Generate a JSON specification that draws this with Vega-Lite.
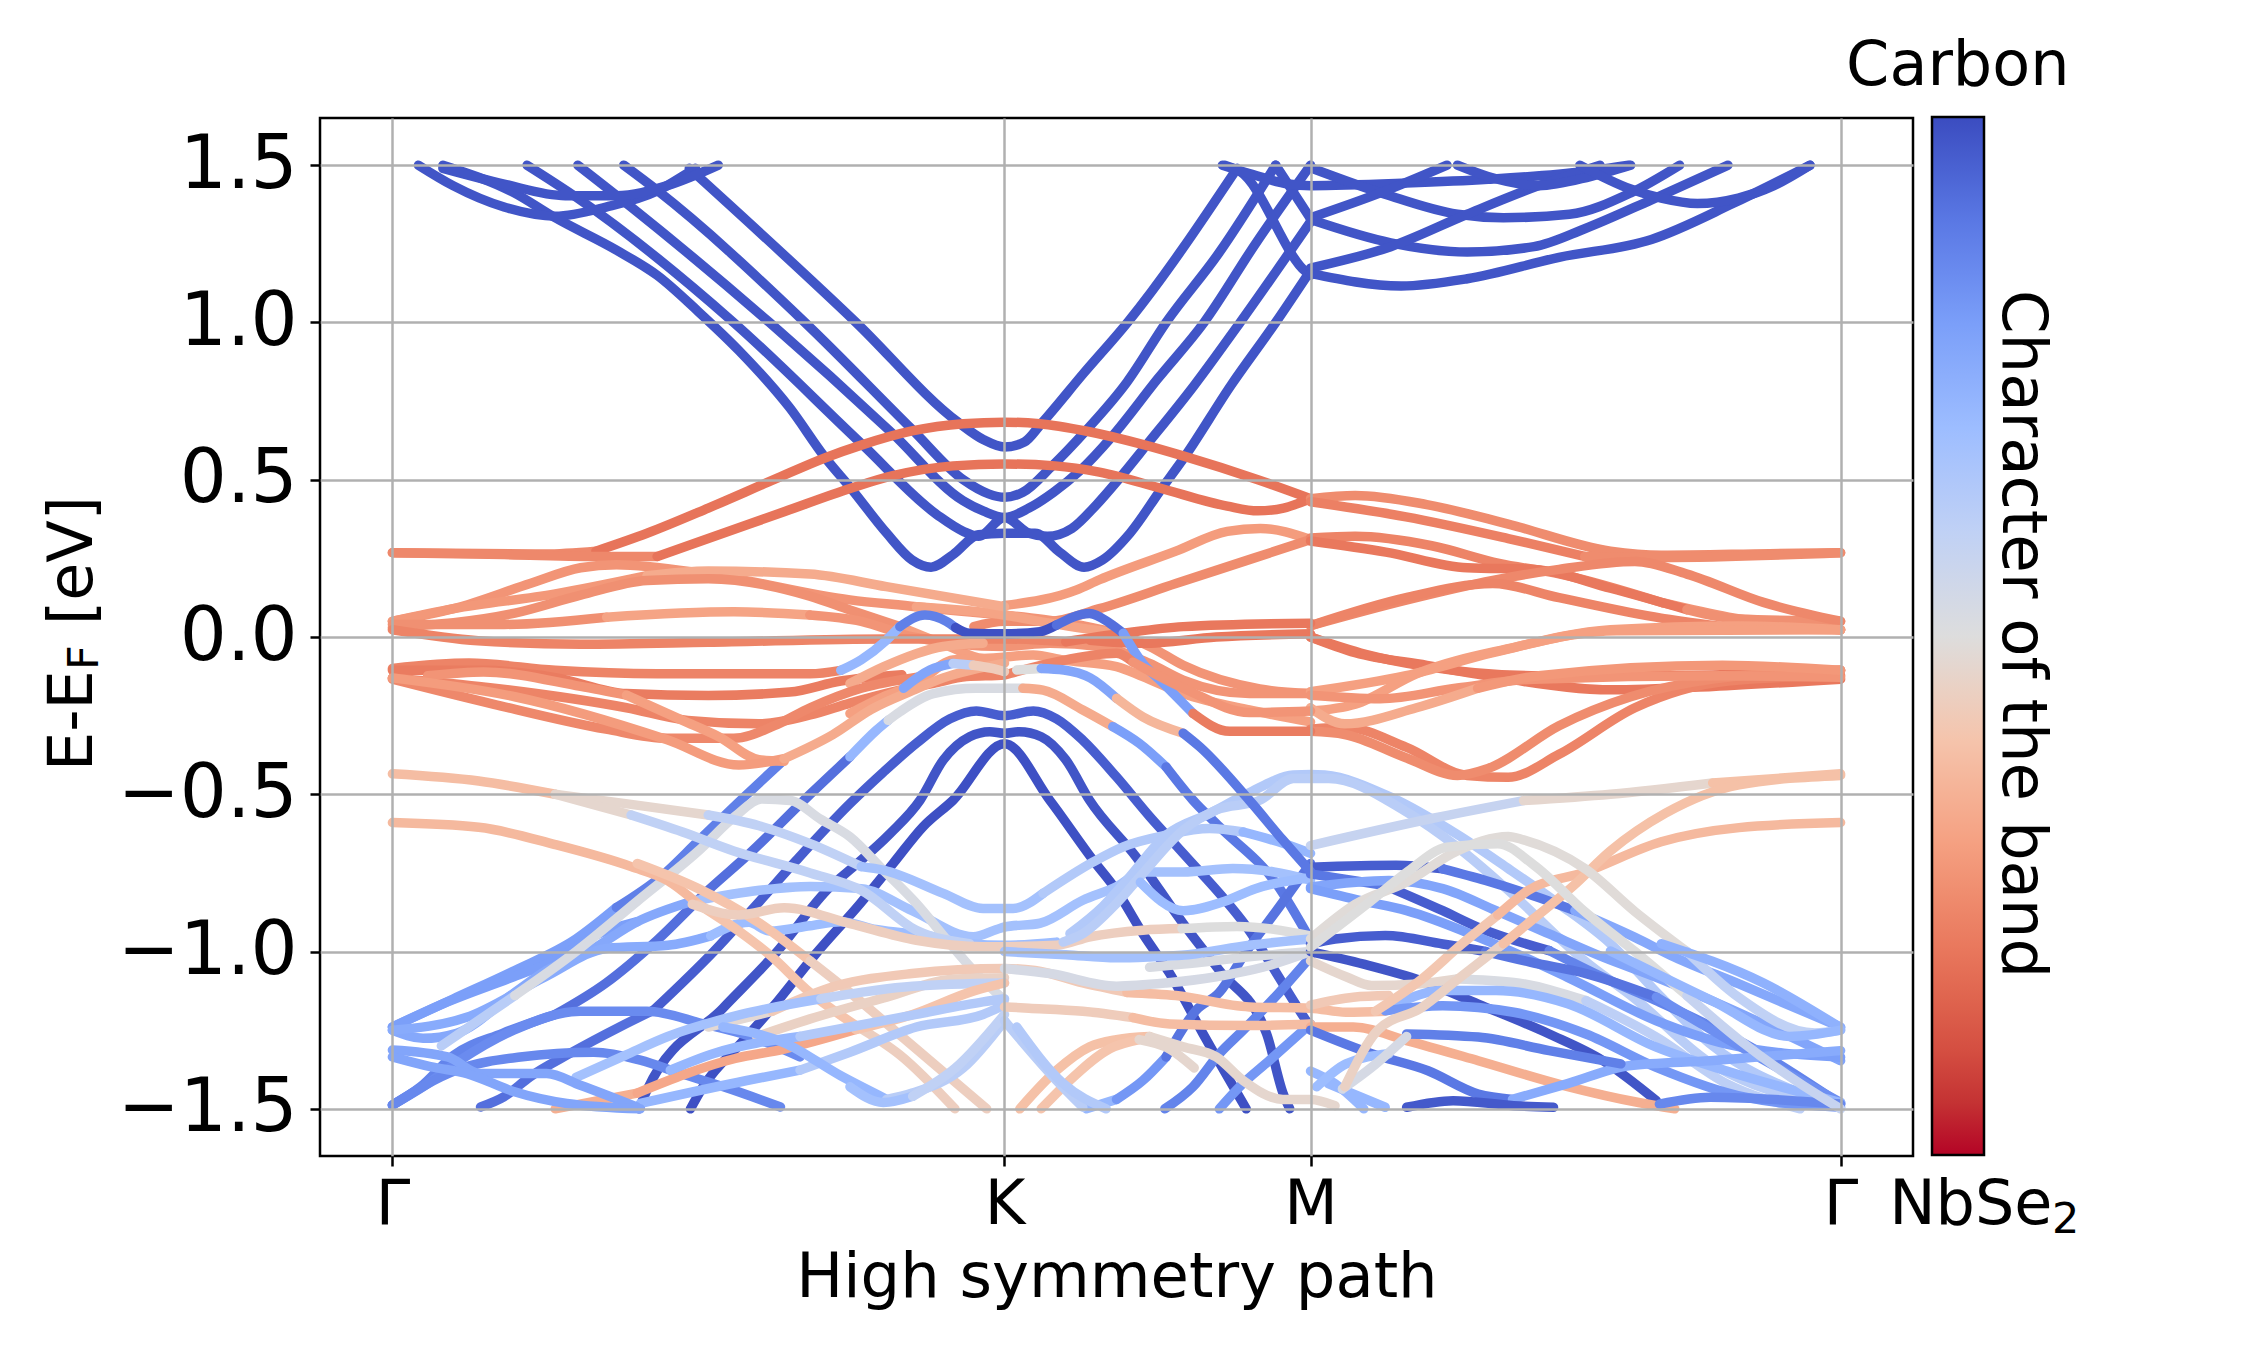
{"$schema":"https://vega.github.io/schema/vega-lite/v6.json","width":1593,"height":1038,"autosize":{"type":"none"},"padding":{"left":320,"top":118,"right":337,"bottom":194},"background":"white","config":{"view":{"stroke":"black","strokeWidth":2.5},"font":"DejaVu Sans"},
"layer":[{"data":{"values":[
{"s":1,"c":98,"x":0.0825,"y":1.5},{"s":1,"c":98,"x":0.199,"y":1.412},{"s":1,"c":98,"x":0.266,"y":1.333},{"s":1,"c":98,"x":0.366,"y":1.23},{"s":1,"c":98,"x":0.4325,"y":1.15},{"s":1,"c":98,"x":0.499,"y":1.036},{"s":1,"c":98,"x":0.566,"y":0.911},{"s":1,"c":98,"x":0.649,"y":0.729},{"s":1,"c":98,"x":0.7075,"y":0.569},{"s":1,"c":98,"x":0.749,"y":0.473},{"s":1,"c":98,"x":0.8075,"y":0.33},{"s":1,"c":98,"x":0.849,"y":0.245},{"s":1,"c":98,"x":0.88,"y":0.222},{"s":1,"c":98,"x":0.916,"y":0.262},{"s":1,"c":98,"x":0.9575,"y":0.325},{"s":1,"c":98,"x":1,"y":0.33},{"s":1,"c":98,"x":1.05,"y":0.33},{"s":1,"c":98,"x":1.09,"y":0.27},{"s":1,"c":98,"x":1.13,"y":0.222},{"s":1,"c":98,"x":1.16,"y":0.245},{"s":1,"c":98,"x":1.205,"y":0.33},{"s":1,"c":98,"x":1.255,"y":0.467},{"s":1,"c":98,"x":1.293,"y":0.569},{"s":1,"c":98,"x":1.37,"y":0.8},{"s":1,"c":98,"x":1.443,"y":1.0},{"s":1,"c":98,"x":1.5,"y":1.165},
{"s":2,"c":98,"x":0.22,"y":1.5},{"s":2,"c":98,"x":0.299,"y":1.4},{"s":2,"c":98,"x":0.5575,"y":1.0},{"s":2,"c":98,"x":0.766,"y":0.615},{"s":2,"c":98,"x":0.891,"y":0.387},{"s":2,"c":98,"x":0.9325,"y":0.336},{"s":2,"c":98,"x":0.9575,"y":0.32},{"s":2,"c":98,"x":1,"y":0.38},{"s":2,"c":98,"x":1.04,"y":0.33},{"s":2,"c":98,"x":1.07,"y":0.32},{"s":2,"c":98,"x":1.11,"y":0.345},{"s":2,"c":98,"x":1.15,"y":0.42},{"s":2,"c":98,"x":1.189,"y":0.507},{"s":2,"c":98,"x":1.232,"y":0.61},{"s":2,"c":98,"x":1.31,"y":0.8},{"s":2,"c":98,"x":1.385,"y":1.0},{"s":2,"c":98,"x":1.5,"y":1.32},
{"s":3,"c":98,"x":0.303,"y":1.5},{"s":3,"c":98,"x":0.39,"y":1.367},{"s":3,"c":98,"x":0.616,"y":1.0},{"s":3,"c":98,"x":0.816,"y":0.649},{"s":3,"c":98,"x":0.9325,"y":0.433},{"s":3,"c":98,"x":0.966,"y":0.4},{"s":3,"c":98,"x":1,"y":0.38},{"s":3,"c":98,"x":1.04,"y":0.41},{"s":3,"c":98,"x":1.08,"y":0.46},{"s":3,"c":98,"x":1.124,"y":0.53},{"s":3,"c":98,"x":1.176,"y":0.638},{"s":3,"c":98,"x":1.25,"y":0.82},{"s":3,"c":98,"x":1.326,"y":1.0},{"s":3,"c":98,"x":1.41,"y":1.25},{"s":3,"c":98,"x":1.5,"y":1.5},
{"s":4,"c":98,"x":0.378,"y":1.5},{"s":4,"c":98,"x":0.4325,"y":1.42},{"s":4,"c":98,"x":0.674,"y":1.0},{"s":4,"c":98,"x":0.849,"y":0.66},{"s":4,"c":98,"x":0.9325,"y":0.5},{"s":4,"c":98,"x":0.974,"y":0.455},{"s":4,"c":98,"x":1,"y":0.444},{"s":4,"c":98,"x":1.03,"y":0.46},{"s":4,"c":98,"x":1.078,"y":0.544},{"s":4,"c":98,"x":1.1325,"y":0.655},{"s":4,"c":98,"x":1.2,"y":0.81},{"s":4,"c":98,"x":1.264,"y":1.0},{"s":4,"c":98,"x":1.35,"y":1.22},{"s":4,"c":98,"x":1.443,"y":1.5},
{"s":5,"c":98,"x":0.485,"y":1.49},{"s":5,"c":98,"x":0.7575,"y":1.0},{"s":5,"c":98,"x":0.924,"y":0.683},{"s":5,"c":98,"x":0.966,"y":0.627},{"s":5,"c":98,"x":1,"y":0.604},{"s":5,"c":98,"x":1.0325,"y":0.62},{"s":5,"c":98,"x":1.06,"y":0.678},{"s":5,"c":98,"x":1.13,"y":0.84},{"s":5,"c":98,"x":1.201,"y":1.0},{"s":5,"c":98,"x":1.38,"y":1.49},
{"s":6,"c":98,"x":1.36,"y":1.5},{"s":6,"c":98,"x":1.385,"y":1.48},{"s":6,"c":98,"x":1.493,"y":1.16},{"s":6,"c":98,"x":1.5,"y":1.15},
{"s":7,"c":98,"x":1.443,"y":1.5},{"s":7,"c":98,"x":1.5,"y":1.33},
{"s":8,"c":98,"x":1.356,"y":1.5},{"s":8,"c":98,"x":1.406,"y":1.47},{"s":8,"c":98,"x":1.464,"y":1.44},{"s":8,"c":98,"x":1.5,"y":1.435},{"s":8,"c":98,"x":1.656,"y":1.443},{"s":8,"c":98,"x":1.79,"y":1.455},{"s":8,"c":98,"x":1.948,"y":1.48},{"s":8,"c":98,"x":2.02,"y":1.5},
{"s":9,"c":98,"x":1.5,"y":1.492},{"s":9,"c":98,"x":1.623,"y":1.407},{"s":9,"c":98,"x":1.74,"y":1.344},{"s":9,"c":98,"x":1.815,"y":1.333},{"s":9,"c":98,"x":1.923,"y":1.344},{"s":9,"c":98,"x":2.023,"y":1.412},{"s":9,"c":98,"x":2.103,"y":1.5},
{"s":10,"c":98,"x":1.5,"y":1.333},{"s":10,"c":98,"x":1.614,"y":1.412},{"s":10,"c":98,"x":1.723,"y":1.5},
{"s":11,"c":98,"x":1.5,"y":1.327},{"s":11,"c":98,"x":1.631,"y":1.253},{"s":11,"c":98,"x":1.756,"y":1.224},{"s":11,"c":98,"x":1.865,"y":1.241},{"s":11,"c":98,"x":1.948,"y":1.298},{"s":11,"c":98,"x":2.057,"y":1.39},{"s":11,"c":98,"x":2.182,"y":1.5},
{"s":12,"c":98,"x":1.5,"y":1.173},{"s":12,"c":98,"x":1.631,"y":1.241},{"s":12,"c":98,"x":1.756,"y":1.344},{"s":12,"c":98,"x":1.873,"y":1.435},{"s":12,"c":98,"x":1.973,"y":1.5},
{"s":13,"c":98,"x":1.5,"y":1.156},{"s":13,"c":98,"x":1.648,"y":1.116},{"s":13,"c":98,"x":1.756,"y":1.139},{"s":13,"c":98,"x":1.906,"y":1.207},{"s":13,"c":98,"x":2.057,"y":1.264},{"s":13,"c":98,"x":2.19,"y":1.378},{"s":13,"c":98,"x":2.316,"y":1.5},
{"s":14,"c":98,"x":1.74,"y":1.5},{"s":14,"c":98,"x":1.79,"y":1.464},{"s":14,"c":98,"x":1.873,"y":1.435},{"s":14,"c":98,"x":1.957,"y":1.464},{"s":14,"c":98,"x":2.023,"y":1.5},
{"s":15,"c":98,"x":1.94,"y":1.5},{"s":15,"c":98,"x":2.023,"y":1.424},{"s":15,"c":98,"x":2.073,"y":1.395},{"s":15,"c":98,"x":2.132,"y":1.378},{"s":15,"c":98,"x":2.199,"y":1.395},{"s":15,"c":98,"x":2.257,"y":1.435},{"s":15,"c":98,"x":2.316,"y":1.5},
{"s":16,"c":98,"x":0.0425,"y":1.5},{"s":16,"c":98,"x":0.099,"y":1.435},{"s":16,"c":98,"x":0.1825,"y":1.367},{"s":16,"c":98,"x":0.266,"y":1.338},{"s":16,"c":98,"x":0.349,"y":1.367},{"s":16,"c":98,"x":0.4325,"y":1.418},{"s":16,"c":98,"x":0.4825,"y":1.475},{"s":16,"c":98,"x":0.495,"y":1.49},
{"s":17,"c":98,"x":0.0825,"y":1.49},{"s":17,"c":98,"x":0.1825,"y":1.44},{"s":17,"c":98,"x":0.2825,"y":1.403},{"s":17,"c":98,"x":0.366,"y":1.403},{"s":17,"c":98,"x":0.449,"y":1.435},{"s":17,"c":98,"x":0.5325,"y":1.5},
{"s":18,"c":80,"x":0,"y":-1.24},{"s":18,"c":80,"x":0.1,"y":-1.15},{"s":18,"c":80,"x":0.2,"y":-1.06},{"s":18,"c":80,"x":0.3,"y":-0.96},{"s":18,"c":80,"x":0.366,"y":-0.86},{"s":18,"c":88,"x":0.366,"y":-0.86},{"s":18,"c":88,"x":0.44,"y":-0.76},{"s":18,"c":88,"x":0.499,"y":-0.65},{"s":18,"c":88,"x":0.574,"y":-0.51},{"s":18,"c":88,"x":0.64,"y":-0.39},
{"s":19,"c":87,"x":0,"y":-1.488},{"s":19,"c":87,"x":0.046,"y":-1.43},{"s":19,"c":87,"x":0.1,"y":-1.33},{"s":19,"c":87,"x":0.18,"y":-1.26},{"s":19,"c":87,"x":0.266,"y":-1.2},{"s":19,"c":92,"x":0.266,"y":-1.2},{"s":19,"c":92,"x":0.349,"y":-1.1},{"s":19,"c":92,"x":0.4325,"y":-0.964},{"s":19,"c":92,"x":0.516,"y":-0.805},{"s":19,"c":92,"x":0.5825,"y":-0.69},{"s":19,"c":92,"x":0.6825,"y":-0.5},{"s":19,"c":92,"x":0.7475,"y":-0.381},
{"s":20,"c":72,"x":0.7475,"y":-0.381},{"s":20,"c":72,"x":0.791,"y":-0.296},{"s":20,"c":72,"x":0.81,"y":-0.265},
{"s":21,"c":52,"x":0.81,"y":-0.265},{"s":21,"c":52,"x":0.829,"y":-0.238},{"s":21,"c":52,"x":0.884,"y":-0.18},{"s":21,"c":52,"x":0.954,"y":-0.163},{"s":21,"c":52,"x":1,"y":-0.163},{"s":21,"c":52,"x":1.03,"y":-0.163},
{"s":22,"c":33,"x":1.03,"y":-0.163},{"s":22,"c":33,"x":1.063,"y":-0.169},{"s":22,"c":33,"x":1.128,"y":-0.232},{"s":22,"c":33,"x":1.177,"y":-0.285},
{"s":23,"c":80,"x":1.177,"y":-0.285},{"s":23,"c":80,"x":1.22,"y":-0.338},{"s":23,"c":80,"x":1.264,"y":-0.413},{"s":23,"c":90,"x":1.264,"y":-0.413},{"s":23,"c":90,"x":1.308,"y":-0.519},{"s":23,"c":90,"x":1.351,"y":-0.603},{"s":23,"c":90,"x":1.444,"y":-0.784},{"s":23,"c":90,"x":1.5,"y":-0.964},
{"s":24,"c":92,"x":0.144,"y":-1.494},{"s":24,"c":92,"x":0.182,"y":-1.462},{"s":24,"c":92,"x":0.225,"y":-1.398},{"s":24,"c":92,"x":0.29,"y":-1.324},{"s":24,"c":92,"x":0.372,"y":-1.239},{"s":24,"c":92,"x":0.427,"y":-1.186},{"s":24,"c":96,"x":0.427,"y":-1.186},{"s":24,"c":96,"x":0.525,"y":-1.0},{"s":24,"c":96,"x":0.6,"y":-0.84},{"s":24,"c":96,"x":0.66,"y":-0.71},{"s":24,"c":96,"x":0.7475,"y":-0.53},{"s":24,"c":96,"x":0.802,"y":-0.43},{"s":24,"c":96,"x":0.856,"y":-0.338},{"s":24,"c":96,"x":0.911,"y":-0.26},{"s":24,"c":96,"x":0.954,"y":-0.235},{"s":24,"c":96,"x":1,"y":-0.25},{"s":24,"c":96,"x":1.047,"y":-0.235},{"s":24,"c":96,"x":1.085,"y":-0.26},{"s":24,"c":96,"x":1.128,"y":-0.328},{"s":24,"c":96,"x":1.183,"y":-0.445},{"s":24,"c":96,"x":1.237,"y":-0.57},{"s":24,"c":96,"x":1.292,"y":-0.688},{"s":24,"c":96,"x":1.395,"y":-0.92},{"s":24,"c":96,"x":1.493,"y":-1.22},{"s":24,"c":96,"x":1.5,"y":-1.24},
{"s":25,"c":98,"x":0.403,"y":-1.5},{"s":25,"c":98,"x":0.416,"y":-1.44},{"s":25,"c":98,"x":0.54,"y":-1.18},{"s":25,"c":98,"x":0.624,"y":-1.01},{"s":25,"c":98,"x":0.716,"y":-0.793},{"s":25,"c":98,"x":0.7475,"y":-0.74},{"s":25,"c":98,"x":0.813,"y":-0.625},{"s":25,"c":98,"x":0.862,"y":-0.519},{"s":25,"c":98,"x":0.9,"y":-0.391},{"s":25,"c":98,"x":0.943,"y":-0.317},{"s":25,"c":98,"x":0.976,"y":-0.301},{"s":25,"c":98,"x":1,"y":-0.306},{"s":25,"c":98,"x":1.024,"y":-0.301},{"s":25,"c":98,"x":1.06,"y":-0.317},{"s":25,"c":98,"x":1.1,"y":-0.39},{"s":25,"c":98,"x":1.139,"y":-0.519},{"s":25,"c":98,"x":1.215,"y":-0.699},{"s":25,"c":98,"x":1.292,"y":-0.911},{"s":25,"c":98,"x":1.351,"y":-1.06},{"s":25,"c":98,"x":1.428,"y":-1.26},{"s":25,"c":98,"x":1.455,"y":-1.45},{"s":25,"c":98,"x":1.466,"y":-1.5},
{"s":26,"c":99,"x":0.487,"y":-1.5},{"s":26,"c":99,"x":0.5075,"y":-1.43},{"s":26,"c":99,"x":0.574,"y":-1.282},{"s":26,"c":99,"x":0.62,"y":-1.18},{"s":26,"c":99,"x":0.691,"y":-1.009},{"s":26,"c":99,"x":0.764,"y":-0.848},{"s":26,"c":99,"x":0.818,"y":-0.72},{"s":26,"c":99,"x":0.867,"y":-0.603},{"s":26,"c":99,"x":0.916,"y":-0.519},{"s":26,"c":99,"x":1,"y":-0.339},{"s":26,"c":99,"x":1.074,"y":-0.519},{"s":26,"c":99,"x":1.145,"y":-0.71},{"s":26,"c":99,"x":1.183,"y":-0.805},{"s":26,"c":99,"x":1.226,"y":-0.943},{"s":26,"c":99,"x":1.27,"y":-1.07},{"s":26,"c":99,"x":1.324,"y":-1.26},{"s":26,"c":99,"x":1.395,"y":-1.5},
{"s":27,"c":87,"x":1.262,"y":-1.5},{"s":27,"c":87,"x":1.308,"y":-1.43},{"s":27,"c":87,"x":1.351,"y":-1.325},{"s":27,"c":87,"x":1.39,"y":-1.25},{"s":27,"c":87,"x":1.449,"y":-1.13},{"s":27,"c":87,"x":1.5,"y":-1.017},
{"s":28,"c":72,"x":1.134,"y":-1.5},{"s":28,"c":72,"x":1.183,"y":-1.47},{"s":28,"c":82,"x":1.183,"y":-1.47},{"s":28,"c":82,"x":1.226,"y":-1.41},{"s":28,"c":82,"x":1.264,"y":-1.335},{"s":28,"c":91,"x":1.264,"y":-1.335},{"s":28,"c":91,"x":1.313,"y":-1.187},{"s":28,"c":91,"x":1.351,"y":-1.13},{"s":28,"c":91,"x":1.395,"y":-1},{"s":28,"c":91,"x":1.449,"y":-0.858},{"s":28,"c":91,"x":1.5,"y":-0.72},
{"s":29,"c":82,"x":1.351,"y":-1.5},{"s":29,"c":82,"x":1.384,"y":-1.43},{"s":29,"c":82,"x":1.433,"y":-1.346},{"s":29,"c":82,"x":1.5,"y":-1.23},
{"s":30,"c":85,"x":0.0,"y":-1.488},{"s":30,"c":85,"x":0.05,"y":-1.43},{"s":30,"c":85,"x":0.111,"y":-1.345},{"s":30,"c":85,"x":0.198,"y":-1.25},{"s":30,"c":85,"x":0.307,"y":-1.19},{"s":30,"c":85,"x":0.416,"y":-1.19},{"s":30,"c":85,"x":0.508,"y":-1.23},{"s":30,"c":85,"x":0.579,"y":-1.266},{"s":30,"c":85,"x":0.666,"y":-1.335},
{"s":31,"c":86,"x":0,"y":-1.488},{"s":31,"c":86,"x":0.105,"y":-1.377},{"s":31,"c":86,"x":0.209,"y":-1.335},{"s":31,"c":86,"x":0.329,"y":-1.32},{"s":31,"c":86,"x":0.405,"y":-1.345},{"s":31,"c":86,"x":0.47,"y":-1.387},{"s":31,"c":86,"x":0.541,"y":-1.43},{"s":31,"c":86,"x":0.634,"y":-1.494},
{"s":32,"c":80,"x":0,"y":-1.24},{"s":32,"c":80,"x":0.09,"y":-1.16},{"s":32,"c":80,"x":0.198,"y":-1.08},{"s":32,"c":80,"x":0.263,"y":-1.03},{"s":32,"c":80,"x":0.33,"y":-0.95},{"s":32,"c":80,"x":0.4,"y":-0.905},
{"s":33,"c":77,"x":0,"y":-1.25},{"s":33,"c":77,"x":0.05,"y":-1.276},{"s":33,"c":77,"x":0.105,"y":-1.26},{"s":33,"c":77,"x":0.198,"y":-1.133},{"s":33,"c":77,"x":0.252,"y":-1.06},{"s":33,"c":77,"x":0.32,"y":-1.0},{"s":33,"c":77,"x":0.4,"y":-0.905},{"s":33,"c":77,"x":0.49,"y":-0.84},{"s":33,"c":68,"x":0.49,"y":-0.84},{"s":33,"c":68,"x":0.6,"y":-0.805},{"s":33,"c":68,"x":0.6825,"y":-0.793},{"s":33,"c":68,"x":0.766,"y":-0.8},{"s":33,"c":68,"x":0.849,"y":-0.87},{"s":33,"c":68,"x":0.949,"y":-0.953},{"s":33,"c":68,"x":0.987,"y":-0.93},{"s":33,"c":68,"x":1,"y":-0.922},{"s":33,"c":68,"x":1.058,"y":-0.91},{"s":33,"c":68,"x":1.128,"y":-0.837},{"s":33,"c":68,"x":1.183,"y":-0.794},{"s":33,"c":68,"x":1.226,"y":-0.747},{"s":33,"c":68,"x":1.292,"y":-0.747},{"s":33,"c":68,"x":1.373,"y":-0.736},{"s":33,"c":68,"x":1.44,"y":-0.747},{"s":33,"c":68,"x":1.5,"y":-0.773},
{"s":34,"c":76,"x":0,"y":-1.25},{"s":34,"c":76,"x":0.12,"y":-1.21},{"s":34,"c":76,"x":0.25,"y":-1.08},{"s":34,"c":76,"x":0.35,"y":-0.99},{"s":34,"c":76,"x":0.45,"y":-0.98},{"s":34,"c":76,"x":0.52,"y":-0.95},{"s":34,"c":70,"x":0.52,"y":-0.95},{"s":34,"c":70,"x":0.5825,"y":-0.907},{"s":34,"c":70,"x":0.616,"y":-0.935},{"s":34,"c":70,"x":0.6825,"y":-0.918},{"s":34,"c":70,"x":0.7325,"y":-0.905},{"s":34,"c":70,"x":0.79,"y":-0.93},{"s":34,"c":70,"x":0.875,"y":-0.95},{"s":34,"c":70,"x":0.943,"y":-0.975},{"s":34,"c":70,"x":1,"y":-0.98},{"s":34,"c":70,"x":1.085,"y":-0.97},
{"s":35,"c":62,"x":0.08,"y":-1.3},{"s":35,"c":62,"x":0.2,"y":-1.14},{"s":35,"c":52,"x":0.2,"y":-1.14},{"s":35,"c":52,"x":0.3,"y":-1.0},{"s":35,"c":52,"x":0.4,"y":-0.84},{"s":35,"c":52,"x":0.5,"y":-0.68},{"s":35,"c":52,"x":0.56,"y":-0.57},{"s":35,"c":52,"x":0.603,"y":-0.515},{"s":35,"c":52,"x":0.65,"y":-0.52},{"s":35,"c":52,"x":0.7,"y":-0.58},{"s":35,"c":52,"x":0.7475,"y":-0.635},{"s":35,"c":52,"x":0.802,"y":-0.741},{"s":35,"c":52,"x":0.856,"y":-0.847},{"s":35,"c":52,"x":0.911,"y":-0.975},{"s":35,"c":52,"x":0.954,"y":-1.07},{"s":35,"c":52,"x":1,"y":-1.155},
{"s":36,"c":38,"x":0,"y":-0.435},{"s":36,"c":38,"x":0.141,"y":-0.458},{"s":36,"c":38,"x":0.266,"y":-0.5},
{"s":37,"c":47,"x":0.266,"y":-0.5},{"s":37,"c":47,"x":0.39,"y":-0.532},{"s":37,"c":47,"x":0.516,"y":-0.566},
{"s":38,"c":60,"x":0.516,"y":-0.566},{"s":38,"c":60,"x":0.599,"y":-0.6},{"s":38,"c":60,"x":0.6825,"y":-0.657},{"s":38,"c":60,"x":0.766,"y":-0.73},{"s":38,"c":68,"x":0.766,"y":-0.73},{"s":38,"c":68,"x":0.802,"y":-0.741},{"s":38,"c":68,"x":0.9,"y":-0.815},{"s":38,"c":68,"x":0.965,"y":-0.863},{"s":38,"c":68,"x":1,"y":-0.863},{"s":38,"c":68,"x":1.014,"y":-0.863},{"s":38,"c":68,"x":1.063,"y":-0.815},{"s":38,"c":64,"x":1.063,"y":-0.815},{"s":38,"c":64,"x":1.145,"y":-0.715},{"s":38,"c":64,"x":1.194,"y":-0.667},{"s":38,"c":64,"x":1.264,"y":-0.63},{"s":38,"c":64,"x":1.335,"y":-0.609},{"s":38,"c":64,"x":1.39,"y":-0.62},{"s":38,"c":72,"x":1.39,"y":-0.62},{"s":38,"c":72,"x":1.455,"y":-0.656},{"s":38,"c":72,"x":1.5,"y":-0.688},
{"s":39,"c":47,"x":0.266,"y":-0.5},{"s":39,"c":47,"x":0.39,"y":-0.566},{"s":39,"c":60,"x":0.39,"y":-0.566},{"s":39,"c":60,"x":0.474,"y":-0.62},{"s":39,"c":60,"x":0.5575,"y":-0.68},{"s":39,"c":60,"x":0.6825,"y":-0.75},{"s":39,"c":60,"x":0.766,"y":-0.805},{"s":39,"c":60,"x":0.856,"y":-0.932},{"s":39,"c":60,"x":0.943,"y":-0.975},
{"s":40,"c":37,"x":0,"y":-0.59},{"s":40,"c":37,"x":0.141,"y":-0.605},{"s":40,"c":37,"x":0.266,"y":-0.66},{"s":40,"c":37,"x":0.39,"y":-0.73},{"s":40,"c":37,"x":0.45,"y":-0.775},{"s":40,"c":37,"x":0.5,"y":-0.85},{"s":40,"c":40,"x":0.5,"y":-0.85},{"s":40,"c":40,"x":0.566,"y":-0.935},{"s":40,"c":40,"x":0.616,"y":-1.01},{"s":40,"c":40,"x":0.682,"y":-1.13},{"s":40,"c":40,"x":0.757,"y":-1.235},{"s":40,"c":44,"x":0.757,"y":-1.235},{"s":40,"c":44,"x":0.83,"y":-1.33},{"s":40,"c":44,"x":0.919,"y":-1.5},
{"s":41,"c":40,"x":0.4,"y":-0.72},{"s":41,"c":40,"x":0.5,"y":-0.8},{"s":41,"c":40,"x":0.6,"y":-0.91},{"s":41,"c":40,"x":0.6825,"y":-1.03},{"s":41,"c":44,"x":0.6825,"y":-1.03},{"s":41,"c":44,"x":0.741,"y":-1.12},{"s":41,"c":44,"x":0.79,"y":-1.2},{"s":41,"c":44,"x":0.85,"y":-1.3},{"s":41,"c":44,"x":0.971,"y":-1.5},
{"s":42,"c":44,"x":0.49,"y":-0.85},{"s":42,"c":44,"x":0.566,"y":-0.884},{"s":42,"c":44,"x":0.64,"y":-0.861},{"s":42,"c":44,"x":0.7475,"y":-0.911},{"s":42,"c":44,"x":0.856,"y":-0.964},{"s":42,"c":44,"x":0.965,"y":-0.985},{"s":42,"c":44,"x":1.085,"y":-0.98},{"s":42,"c":44,"x":1.14,"y":-0.953},{"s":42,"c":44,"x":1.226,"y":-0.932},{"s":42,"c":44,"x":1.29,"y":-0.927},{"s":42,"c":50,"x":1.29,"y":-0.927},{"s":42,"c":50,"x":1.38,"y":-0.92},{"s":42,"c":50,"x":1.5,"y":-0.95},
{"s":43,"c":48,"x":0.516,"y":-1.24},{"s":43,"c":48,"x":0.62,"y":-1.19},{"s":43,"c":42,"x":0.62,"y":-1.19},{"s":43,"c":42,"x":0.724,"y":-1.11},{"s":43,"c":42,"x":0.849,"y":-1.07},{"s":43,"c":42,"x":1,"y":-1.054},{"s":43,"c":42,"x":1.05,"y":-1.06},{"s":43,"c":42,"x":1.128,"y":-1.1},{"s":43,"c":42,"x":1.2,"y":-1.13},{"s":43,"c":38,"x":1.2,"y":-1.13},{"s":43,"c":38,"x":1.28,"y":-1.14},{"s":43,"c":38,"x":1.4,"y":-1.176},{"s":43,"c":38,"x":1.5,"y":-1.18},{"s":43,"c":38,"x":1.558,"y":-1.193},{"s":43,"c":38,"x":1.622,"y":-1.19},
{"s":44,"c":45,"x":0.595,"y":-1.27},{"s":44,"c":45,"x":0.6825,"y":-1.214},{"s":44,"c":45,"x":0.8075,"y":-1.145},{"s":44,"c":45,"x":0.916,"y":-1.088},{"s":44,"c":45,"x":1,"y":-1.083},
{"s":45,"c":68,"x":0.3,"y":-1.4},{"s":45,"c":68,"x":0.38,"y":-1.33},{"s":45,"c":68,"x":0.45,"y":-1.27},{"s":45,"c":68,"x":0.57,"y":-1.2},{"s":45,"c":68,"x":0.7,"y":-1.15},{"s":45,"c":60,"x":0.7,"y":-1.15},{"s":45,"c":60,"x":0.85,"y":-1.11},{"s":45,"c":60,"x":1,"y":-1.1},
{"s":46,"c":34,"x":0.266,"y":-1.5},{"s":46,"c":34,"x":0.4,"y":-1.45},{"s":46,"c":32,"x":0.4,"y":-1.45},{"s":46,"c":32,"x":0.56,"y":-1.34},{"s":46,"c":32,"x":0.64,"y":-1.31},{"s":46,"c":32,"x":0.757,"y":-1.248},{"s":46,"c":40,"x":0.757,"y":-1.248},{"s":46,"c":40,"x":0.85,"y":-1.2},{"s":46,"c":40,"x":0.95,"y":-1.125},{"s":46,"c":40,"x":1,"y":-1.1},
{"s":47,"c":72,"x":0.405,"y":-1.483},{"s":47,"c":72,"x":0.579,"y":-1.41},{"s":47,"c":72,"x":0.666,"y":-1.377},{"s":47,"c":64,"x":0.666,"y":-1.377},{"s":47,"c":64,"x":0.7475,"y":-1.32},{"s":47,"c":64,"x":0.856,"y":-1.24},{"s":47,"c":64,"x":0.965,"y":-1.2},{"s":47,"c":64,"x":1,"y":-1.17},
{"s":48,"c":72,"x":0.454,"y":-1.377},{"s":48,"c":72,"x":0.525,"y":-1.324},{"s":48,"c":72,"x":0.666,"y":-1.27},{"s":48,"c":64,"x":0.666,"y":-1.27},{"s":48,"c":64,"x":0.7475,"y":-1.24},{"s":48,"c":64,"x":0.856,"y":-1.2},{"s":48,"c":64,"x":0.965,"y":-1.16},{"s":48,"c":64,"x":1,"y":-1.15},
{"s":49,"c":72,"x":0.54,"y":-1.24},{"s":49,"c":72,"x":0.64,"y":-1.29},{"s":49,"c":72,"x":0.7325,"y":-1.395},{"s":49,"c":72,"x":0.8075,"y":-1.47},{"s":49,"c":62,"x":0.8075,"y":-1.47},{"s":49,"c":62,"x":0.849,"y":-1.45},{"s":49,"c":62,"x":0.9325,"y":-1.37},{"s":49,"c":62,"x":1,"y":-1.22},
{"s":50,"c":68,"x":0.7475,"y":-1.43},{"s":50,"c":68,"x":0.802,"y":-1.48},{"s":50,"c":68,"x":0.85,"y":-1.46},{"s":50,"c":60,"x":0.85,"y":-1.46},{"s":50,"c":60,"x":0.92,"y":-1.37},{"s":50,"c":60,"x":1,"y":-1.2},
{"s":51,"c":78,"x":0,"y":-1.313},{"s":51,"c":78,"x":0.09,"y":-1.335},{"s":51,"c":78,"x":0.144,"y":-1.388},{"s":51,"c":78,"x":0.252,"y":-1.388},{"s":51,"c":78,"x":0.307,"y":-1.425},{"s":51,"c":78,"x":0.399,"y":-1.494},
{"s":52,"c":78,"x":0,"y":-1.335},{"s":52,"c":78,"x":0.062,"y":-1.366},{"s":52,"c":78,"x":0.122,"y":-1.388},{"s":52,"c":78,"x":0.198,"y":-1.445},{"s":52,"c":78,"x":0.285,"y":-1.483},{"s":52,"c":78,"x":0.405,"y":-1.5},
{"s":53,"c":39,"x":1.025,"y":-1.5},{"s":53,"c":39,"x":1.085,"y":-1.378},{"s":53,"c":39,"x":1.139,"y":-1.303},{"s":53,"c":39,"x":1.183,"y":-1.28},{"s":53,"c":39,"x":1.237,"y":-1.27},{"s":53,"c":47,"x":1.237,"y":-1.27},{"s":53,"c":47,"x":1.292,"y":-1.303},{"s":53,"c":47,"x":1.346,"y":-1.335},{"s":53,"c":47,"x":1.39,"y":-1.41},{"s":53,"c":47,"x":1.455,"y":-1.47},{"s":53,"c":47,"x":1.5,"y":-1.47},{"s":53,"c":47,"x":1.54,"y":-1.49},
{"s":54,"c":40,"x":1.06,"y":-1.5},{"s":54,"c":40,"x":1.101,"y":-1.42},{"s":54,"c":40,"x":1.172,"y":-1.309},{"s":54,"c":40,"x":1.22,"y":-1.28},{"s":54,"c":47,"x":1.22,"y":-1.28},{"s":54,"c":47,"x":1.27,"y":-1.31},{"s":54,"c":47,"x":1.31,"y":-1.37},
{"s":55,"c":62,"x":1,"y":-1.22},{"s":55,"c":62,"x":1.085,"y":-1.41},{"s":55,"c":62,"x":1.128,"y":-1.495},
{"s":56,"c":64,"x":1.02,"y":-1.24},{"s":56,"c":64,"x":1.096,"y":-1.42},{"s":56,"c":64,"x":1.166,"y":-1.5},
{"s":57,"c":64,"x":1.107,"y":-0.943},{"s":57,"c":64,"x":1.16,"y":-0.858},{"s":57,"c":64,"x":1.2,"y":-0.773},{"s":57,"c":64,"x":1.264,"y":-0.63},{"s":57,"c":64,"x":1.335,"y":-0.561},{"s":57,"c":64,"x":1.397,"y":-0.498},{"s":57,"c":64,"x":1.472,"y":-0.439},{"s":57,"c":64,"x":1.5,"y":-0.437},{"s":57,"c":64,"x":1.523,"y":-0.439},{"s":57,"c":64,"x":1.631,"y":-0.509},{"s":57,"c":64,"x":1.74,"y":-0.628},{"s":57,"c":64,"x":1.823,"y":-0.736},{"s":57,"c":64,"x":1.906,"y":-0.849},{"s":57,"c":64,"x":1.99,"y":-0.975},{"s":57,"c":64,"x":2.073,"y":-1.145},{"s":57,"c":64,"x":2.157,"y":-1.3},{"s":57,"c":64,"x":2.3,"y":-1.45},
{"s":58,"c":62,"x":1.096,"y":-0.97},{"s":58,"c":62,"x":1.128,"y":-0.943},{"s":58,"c":62,"x":1.183,"y":-0.847},{"s":58,"c":62,"x":1.226,"y":-0.752},{"s":58,"c":62,"x":1.292,"y":-0.614},{"s":58,"c":62,"x":1.346,"y":-0.55},{"s":58,"c":62,"x":1.417,"y":-0.519},{"s":58,"c":62,"x":1.472,"y":-0.45},{"s":58,"c":62,"x":1.53,"y":-0.45},{"s":58,"c":62,"x":1.656,"y":-0.555},{"s":58,"c":62,"x":1.74,"y":-0.668},{"s":58,"c":62,"x":1.823,"y":-0.805},{"s":58,"c":62,"x":1.948,"y":-1.03},{"s":58,"c":62,"x":2.03,"y":-1.15},{"s":58,"c":62,"x":2.15,"y":-1.35},{"s":58,"c":62,"x":2.3,"y":-1.47},
{"s":59,"c":70,"x":1.222,"y":-0.78},{"s":59,"c":70,"x":1.292,"y":-0.87},{"s":59,"c":70,"x":1.36,"y":-0.84},{"s":59,"c":70,"x":1.41,"y":-0.8},{"s":59,"c":70,"x":1.5,"y":-0.765},
{"s":60,"c":52,"x":1.237,"y":-1.05},{"s":60,"c":52,"x":1.292,"y":-1.04},{"s":60,"c":52,"x":1.4,"y":-1.017},{"s":60,"c":52,"x":1.5,"y":-1},
{"s":61,"c":53,"x":1,"y":-1.054},{"s":61,"c":53,"x":1.074,"y":-1.07},{"s":61,"c":53,"x":1.183,"y":-1.11},{"s":61,"c":53,"x":1.264,"y":-1.1},{"s":61,"c":53,"x":1.346,"y":-1.08},{"s":61,"c":53,"x":1.422,"y":-1.05},{"s":61,"c":53,"x":1.5,"y":-1},
{"s":62,"c":68,"x":1,"y":-1},{"s":62,"c":68,"x":1.1,"y":-1.01},{"s":62,"c":68,"x":1.183,"y":-1.02},{"s":62,"c":68,"x":1.237,"y":-1.017},{"s":62,"c":68,"x":1.3,"y":-1.01},{"s":62,"c":68,"x":1.4,"y":-0.98},{"s":62,"c":68,"x":1.5,"y":-0.96},
{"s":63,"c":43,"x":1,"y":-1.176},{"s":63,"c":43,"x":1.04,"y":-1.18},{"s":63,"c":43,"x":1.128,"y":-1.19},{"s":63,"c":43,"x":1.21,"y":-1.21},{"s":63,"c":38,"x":1.21,"y":-1.21},{"s":63,"c":38,"x":1.27,"y":-1.23},{"s":63,"c":38,"x":1.4,"y":-1.235},{"s":63,"c":38,"x":1.5,"y":-1.23},
{"s":64,"c":96,"x":1.5,"y":-0.732},{"s":64,"c":96,"x":1.64,"y":-0.726},{"s":64,"c":96,"x":1.716,"y":-0.737},{"s":64,"c":90,"x":1.716,"y":-0.737},{"s":64,"c":90,"x":1.786,"y":-0.774},{"s":64,"c":90,"x":1.856,"y":-0.817},{"s":64,"c":90,"x":1.932,"y":-0.87},{"s":64,"c":77,"x":1.932,"y":-0.87},{"s":64,"c":77,"x":2.03,"y":-0.955},{"s":64,"c":77,"x":2.095,"y":-1.018},{"s":64,"c":77,"x":2.2,"y":-1.103},{"s":64,"c":77,"x":2.366,"y":-1.24},
{"s":65,"c":90,"x":1.5,"y":-0.753},{"s":65,"c":90,"x":1.622,"y":-0.79},{"s":65,"c":96,"x":1.622,"y":-0.79},{"s":65,"c":96,"x":1.716,"y":-0.87},{"s":65,"c":96,"x":1.774,"y":-0.923},{"s":65,"c":96,"x":1.89,"y":-0.997},{"s":65,"c":87,"x":1.89,"y":-0.997},{"s":65,"c":87,"x":1.978,"y":-1.082},{"s":65,"c":87,"x":2.065,"y":-1.156},{"s":65,"c":87,"x":2.21,"y":-1.294},{"s":65,"c":87,"x":2.366,"y":-1.485},
{"s":66,"c":78,"x":1.5,"y":-0.795},{"s":66,"c":78,"x":1.628,"y":-0.774},{"s":66,"c":78,"x":1.716,"y":-0.8},{"s":66,"c":78,"x":1.803,"y":-0.87},{"s":66,"c":78,"x":1.89,"y":-0.944},{"s":66,"c":78,"x":1.978,"y":-1.018},{"s":66,"c":78,"x":2.065,"y":-1.082},{"s":66,"c":78,"x":2.18,"y":-1.177},{"s":66,"c":78,"x":2.366,"y":-1.347},
{"s":67,"c":80,"x":1.5,"y":-0.8},{"s":67,"c":80,"x":1.582,"y":-0.838},{"s":67,"c":80,"x":1.657,"y":-0.87},{"s":67,"c":80,"x":1.774,"y":-0.954},{"s":67,"c":80,"x":1.92,"y":-1.082},{"s":67,"c":80,"x":2.065,"y":-1.22},{"s":67,"c":80,"x":2.18,"y":-1.294},{"s":67,"c":80,"x":2.366,"y":-1.336},
{"s":68,"c":96,"x":1.5,"y":-0.976},{"s":68,"c":96,"x":1.54,"y":-0.96},{"s":68,"c":96,"x":1.622,"y":-0.949},{"s":68,"c":96,"x":1.716,"y":-0.976},{"s":68,"c":96,"x":1.786,"y":-1},{"s":68,"c":91,"x":1.786,"y":-1},{"s":68,"c":91,"x":1.86,"y":-1.034},{"s":68,"c":91,"x":1.95,"y":-1.07},{"s":68,"c":91,"x":2.065,"y":-1.145},{"s":68,"c":84,"x":2.065,"y":-1.145},{"s":68,"c":84,"x":2.2,"y":-1.3},{"s":68,"c":84,"x":2.366,"y":-1.48},
{"s":69,"c":98,"x":1.5,"y":-1},{"s":69,"c":98,"x":1.587,"y":-1.04},{"s":69,"c":98,"x":1.68,"y":-1.092},{"s":69,"c":98,"x":1.774,"y":-1.167},{"s":69,"c":98,"x":1.89,"y":-1.262},{"s":69,"c":98,"x":1.978,"y":-1.347},{"s":69,"c":98,"x":2.065,"y":-1.474},
{"s":70,"c":47,"x":1.5,"y":-1.03},{"s":70,"c":47,"x":1.558,"y":-1.08},{"s":70,"c":47,"x":1.6,"y":-1.108},{"s":70,"c":47,"x":1.675,"y":-1.103},{"s":70,"c":47,"x":1.74,"y":-1.087},{"s":70,"c":52,"x":1.74,"y":-1.087},{"s":70,"c":52,"x":1.832,"y":-1.098},{"s":70,"c":52,"x":1.95,"y":-1.156},{"s":70,"c":61,"x":1.95,"y":-1.156},{"s":70,"c":61,"x":2.065,"y":-1.272},{"s":70,"c":61,"x":2.18,"y":-1.42},{"s":70,"c":61,"x":2.3,"y":-1.5},
{"s":71,"c":72,"x":1.64,"y":-1.166},{"s":71,"c":72,"x":1.716,"y":-1.124},{"s":71,"c":72,"x":1.803,"y":-1.124},{"s":71,"c":72,"x":1.92,"y":-1.166},{"s":71,"c":72,"x":2.065,"y":-1.304},{"s":71,"c":72,"x":2.18,"y":-1.38},{"s":71,"c":72,"x":2.366,"y":-1.48},
{"s":72,"c":82,"x":1.622,"y":-1.188},{"s":72,"c":82,"x":1.716,"y":-1.172},{"s":72,"c":82,"x":1.832,"y":-1.193},{"s":72,"c":82,"x":1.95,"y":-1.262},{"s":72,"c":82,"x":2.065,"y":-1.368},{"s":72,"c":82,"x":2.21,"y":-1.463},{"s":72,"c":82,"x":2.366,"y":-1.495},
{"s":73,"c":42,"x":1.5,"y":-1.17},{"s":73,"c":42,"x":1.57,"y":-1.145},{"s":73,"c":42,"x":1.628,"y":-1.14},
{"s":74,"c":34,"x":1.5,"y":-1.24},{"s":74,"c":34,"x":1.57,"y":-1.24},{"s":74,"c":34,"x":1.657,"y":-1.283},{"s":74,"c":34,"x":1.774,"y":-1.347},{"s":74,"c":34,"x":1.914,"y":-1.426},{"s":74,"c":34,"x":2.036,"y":-1.48},{"s":74,"c":34,"x":2.095,"y":-1.5},
{"s":75,"c":90,"x":1.5,"y":-1.25},{"s":75,"c":90,"x":1.6,"y":-1.325},{"s":75,"c":90,"x":1.692,"y":-1.379},{"s":75,"c":90,"x":1.774,"y":-1.453},{"s":75,"c":90,"x":1.83,"y":-1.47},
{"s":76,"c":76,"x":1.83,"y":-1.47},{"s":76,"c":76,"x":1.92,"y":-1.42},{"s":76,"c":76,"x":2.02,"y":-1.363},{"s":76,"c":76,"x":2.153,"y":-1.347},{"s":76,"c":76,"x":2.366,"y":-1.315},
{"s":77,"c":97,"x":1.657,"y":-1.495},{"s":77,"c":97,"x":1.733,"y":-1.474},{"s":77,"c":97,"x":1.832,"y":-1.49},{"s":77,"c":97,"x":1.897,"y":-1.495},
{"s":78,"c":86,"x":2.07,"y":-1.485},{"s":78,"c":86,"x":2.153,"y":-1.463},{"s":78,"c":86,"x":2.366,"y":-1.485},
{"s":79,"c":88,"x":1.657,"y":-1.262},{"s":79,"c":88,"x":1.774,"y":-1.272},{"s":79,"c":88,"x":1.89,"y":-1.315},{"s":79,"c":88,"x":2.007,"y":-1.357},
{"s":80,"c":72,"x":1.529,"y":-1.42},{"s":80,"c":72,"x":1.622,"y":-1.495},
{"s":81,"c":72,"x":1.5,"y":-1.38},{"s":81,"c":72,"x":1.54,"y":-1.42},{"s":81,"c":72,"x":1.587,"y":-1.5},
{"s":82,"c":70,"x":1.51,"y":-1.43},{"s":82,"c":70,"x":1.558,"y":-1.357},{"s":82,"c":70,"x":1.628,"y":-1.325},
{"s":83,"c":53,"x":1.552,"y":-1.437},{"s":83,"c":53,"x":1.6,"y":-1.368},{"s":83,"c":53,"x":1.657,"y":-1.27},
{"s":84,"c":58,"x":1.5,"y":-0.663},{"s":84,"c":58,"x":1.698,"y":-0.577},{"s":84,"c":58,"x":1.848,"y":-0.52},{"s":84,"c":47,"x":1.848,"y":-0.52},{"s":84,"c":47,"x":1.99,"y":-0.5},{"s":84,"c":47,"x":2.157,"y":-0.464},{"s":84,"c":39,"x":2.157,"y":-0.464},{"s":84,"c":39,"x":2.366,"y":-0.435},
{"s":85,"c":41,"x":1.606,"y":-1.19},{"s":85,"c":41,"x":1.681,"y":-1.089},{"s":85,"c":41,"x":1.748,"y":-0.975},{"s":85,"c":41,"x":1.806,"y":-0.884},{"s":85,"c":37,"x":1.806,"y":-0.884},{"s":85,"c":37,"x":1.856,"y":-0.805},{"s":85,"c":37,"x":1.948,"y":-0.748},{"s":85,"c":37,"x":2.073,"y":-0.651},{"s":85,"c":37,"x":2.2,"y":-0.606},{"s":85,"c":37,"x":2.366,"y":-0.59},
{"s":86,"c":45,"x":1.556,"y":-1.43},{"s":86,"c":45,"x":1.61,"y":-1.25},{"s":86,"c":45,"x":1.68,"y":-1.18},{"s":86,"c":45,"x":1.74,"y":-1.089},{"s":86,"c":45,"x":1.815,"y":-0.975},{"s":86,"c":39,"x":1.815,"y":-0.975},{"s":86,"c":39,"x":1.865,"y":-0.895},{"s":86,"c":39,"x":1.93,"y":-0.79},{"s":86,"c":39,"x":1.99,"y":-0.68},{"s":86,"c":39,"x":2.08,"y":-0.56},{"s":86,"c":39,"x":2.2,"y":-0.47},{"s":86,"c":39,"x":2.366,"y":-0.44},
{"s":87,"c":49,"x":1.5,"y":-0.96},{"s":87,"c":49,"x":1.573,"y":-0.85},{"s":87,"c":49,"x":1.656,"y":-0.78},{"s":87,"c":49,"x":1.74,"y":-0.68},{"s":87,"c":49,"x":1.823,"y":-0.634},{"s":87,"c":49,"x":1.848,"y":-0.645},{"s":87,"c":49,"x":1.948,"y":-0.736},{"s":87,"c":49,"x":2.03,"y":-0.873},{"s":87,"c":49,"x":2.115,"y":-1},{"s":87,"c":60,"x":2.115,"y":-1},{"s":87,"c":60,"x":2.199,"y":-1.145},{"s":87,"c":60,"x":2.324,"y":-1.259},{"s":87,"c":60,"x":2.366,"y":-1.25},
{"s":88,"c":50,"x":1.5,"y":-0.986},{"s":88,"c":50,"x":1.598,"y":-0.84},{"s":88,"c":50,"x":1.656,"y":-0.75},{"s":88,"c":50,"x":1.723,"y":-0.668},{"s":88,"c":50,"x":1.806,"y":-0.657},{"s":88,"c":50,"x":1.865,"y":-0.725},{"s":88,"c":50,"x":1.948,"y":-0.873},{"s":88,"c":50,"x":2.03,"y":-1},{"s":88,"c":50,"x":2.115,"y":-1.14},{"s":88,"c":58,"x":2.115,"y":-1.14},{"s":88,"c":58,"x":2.2,"y":-1.28},{"s":88,"c":58,"x":2.3,"y":-1.42},{"s":88,"c":58,"x":2.366,"y":-1.5},
{"s":89,"c":74,"x":2.073,"y":-0.975},{"s":89,"c":74,"x":2.24,"y":-1.1},{"s":89,"c":74,"x":2.366,"y":-1.242},
{"s":90,"c":72,"x":1.99,"y":-0.998},{"s":90,"c":72,"x":2.157,"y":-1.157},{"s":90,"c":72,"x":2.283,"y":-1.27},{"s":90,"c":72,"x":2.366,"y":-1.25},
{"s":100,"c":24,"x":0,"y":0.268},{"s":100,"c":24,"x":0.249,"y":0.264},{"s":100,"c":24,"x":0.3325,"y":0.273},{"s":100,"c":19,"x":0.3325,"y":0.273},{"s":100,"c":19,"x":0.416,"y":0.33},{"s":100,"c":19,"x":0.516,"y":0.41},{"s":100,"c":19,"x":0.624,"y":0.501},{"s":100,"c":19,"x":0.7075,"y":0.57},{"s":100,"c":19,"x":0.766,"y":0.61},{"s":100,"c":19,"x":0.849,"y":0.655},{"s":100,"c":19,"x":0.9325,"y":0.678},{"s":100,"c":19,"x":1,"y":0.683},{"s":100,"c":19,"x":1.0575,"y":0.678},{"s":100,"c":19,"x":1.1325,"y":0.655},{"s":100,"c":19,"x":1.23,"y":0.61},{"s":100,"c":19,"x":1.293,"y":0.575},{"s":100,"c":19,"x":1.414,"y":0.5},{"s":100,"c":19,"x":1.5,"y":0.44},
{"s":101,"c":24,"x":0,"y":0.268},{"s":101,"c":24,"x":0.1825,"y":0.262},{"s":101,"c":24,"x":0.349,"y":0.256},{"s":101,"c":24,"x":0.4325,"y":0.256},{"s":101,"c":19,"x":0.4325,"y":0.256},{"s":101,"c":19,"x":0.516,"y":0.313},{"s":101,"c":19,"x":0.641,"y":0.399},{"s":101,"c":19,"x":0.749,"y":0.473},{"s":101,"c":19,"x":0.816,"y":0.512},{"s":101,"c":19,"x":0.916,"y":0.544},{"s":101,"c":19,"x":1,"y":0.55},{"s":101,"c":19,"x":1.0825,"y":0.544},{"s":101,"c":19,"x":1.155,"y":0.524},{"s":101,"c":19,"x":1.255,"y":0.473},{"s":101,"c":19,"x":1.364,"y":0.416},{"s":101,"c":19,"x":1.414,"y":0.401},{"s":101,"c":19,"x":1.456,"y":0.41},{"s":101,"c":19,"x":1.5,"y":0.44},
{"s":102,"c":25,"x":1.5,"y":0.44},{"s":102,"c":25,"x":1.573,"y":0.45},{"s":102,"c":25,"x":1.69,"y":0.421},{"s":102,"c":25,"x":1.823,"y":0.359},{"s":102,"c":25,"x":1.99,"y":0.273},{"s":102,"c":25,"x":2.073,"y":0.26},{"s":102,"c":25,"x":2.25,"y":0.265},{"s":102,"c":25,"x":2.366,"y":0.268},
{"s":103,"c":22,"x":1.5,"y":0.43},{"s":103,"c":22,"x":1.656,"y":0.382},{"s":103,"c":22,"x":1.823,"y":0.313},{"s":103,"c":22,"x":1.948,"y":0.256},{"s":103,"c":25,"x":1.948,"y":0.256},{"s":103,"c":25,"x":2.073,"y":0.253},{"s":103,"c":25,"x":2.366,"y":0.268},
{"s":104,"c":29,"x":1,"y":0.1},{"s":104,"c":29,"x":1.118,"y":0.15},{"s":104,"c":29,"x":1.155,"y":0.182},{"s":104,"c":29,"x":1.28,"y":0.273},{"s":104,"c":29,"x":1.364,"y":0.336},{"s":104,"c":29,"x":1.418,"y":0.345},{"s":104,"c":29,"x":1.5,"y":0.31},
{"s":105,"c":25,"x":0.95,"y":0.033},{"s":105,"c":25,"x":1,"y":0.05},{"s":105,"c":25,"x":1.074,"y":0.05},{"s":105,"c":25,"x":1.155,"y":0.09},{"s":105,"c":25,"x":1.28,"y":0.17},{"s":105,"c":25,"x":1.406,"y":0.25},{"s":105,"c":25,"x":1.5,"y":0.31},
{"s":106,"c":23,"x":1.5,"y":0.315},{"s":106,"c":23,"x":1.573,"y":0.32},{"s":106,"c":23,"x":1.698,"y":0.29},{"s":106,"c":23,"x":1.808,"y":0.234},{"s":106,"c":23,"x":1.908,"y":0.2},{"s":106,"c":23,"x":2.075,"y":0.109},{"s":106,"c":27,"x":2.075,"y":0.109},{"s":106,"c":27,"x":2.183,"y":0.063},{"s":106,"c":27,"x":2.366,"y":0.023},
{"s":107,"c":20,"x":1.5,"y":0.305},{"s":107,"c":20,"x":1.623,"y":0.27},{"s":107,"c":20,"x":1.756,"y":0.22},{"s":107,"c":20,"x":1.865,"y":0.215},{"s":107,"c":20,"x":1.99,"y":0.155},{"s":107,"c":20,"x":2.115,"y":0.087},{"s":107,"c":26,"x":2.115,"y":0.087},{"s":107,"c":26,"x":2.199,"y":0.057},{"s":107,"c":26,"x":2.366,"y":0.05},
{"s":108,"c":24,"x":1.5,"y":0.036},{"s":108,"c":24,"x":1.656,"y":0.117},{"s":108,"c":24,"x":1.798,"y":0.18},{"s":108,"c":24,"x":1.906,"y":0.215},{"s":108,"c":24,"x":2.03,"y":0.24},{"s":108,"c":24,"x":2.115,"y":0.2},{"s":108,"c":24,"x":2.24,"y":0.11},{"s":108,"c":24,"x":2.366,"y":0.05},
{"s":109,"c":23,"x":1.5,"y":0.036},{"s":109,"c":23,"x":1.656,"y":0.125},{"s":109,"c":23,"x":1.798,"y":0.17},{"s":109,"c":23,"x":1.906,"y":0.125},{"s":109,"c":23,"x":2.073,"y":0.06},{"s":109,"c":23,"x":2.199,"y":0.03},{"s":109,"c":23,"x":2.366,"y":0.023},
{"s":110,"c":27,"x":0,"y":0.05},{"s":110,"c":27,"x":0.1,"y":0.09},{"s":110,"c":27,"x":0.225,"y":0.17},{"s":110,"c":27,"x":0.3075,"y":0.22},{"s":110,"c":27,"x":0.366,"y":0.23},{"s":110,"c":27,"x":0.516,"y":0.2},{"s":110,"c":27,"x":0.7475,"y":0.118},{"s":110,"c":27,"x":0.856,"y":0.096},{"s":110,"c":31,"x":0.856,"y":0.096},{"s":110,"c":31,"x":1,"y":0.07},{"s":110,"c":31,"x":1.074,"y":0.044},{"s":110,"c":31,"x":1.183,"y":0.012},{"s":110,"c":27,"x":1.183,"y":0.012},{"s":110,"c":27,"x":1.237,"y":-0.03},{"s":110,"c":27,"x":1.292,"y":-0.09},{"s":110,"c":27,"x":1.417,"y":-0.165},{"s":110,"c":27,"x":1.5,"y":-0.18},
{"s":111,"c":28,"x":0,"y":0.05},{"s":111,"c":28,"x":0.1,"y":0.09},{"s":111,"c":28,"x":0.266,"y":0.137},{"s":111,"c":28,"x":0.416,"y":0.195},{"s":111,"c":33,"x":0.416,"y":0.195},{"s":111,"c":33,"x":0.516,"y":0.21},{"s":111,"c":33,"x":0.682,"y":0.2},{"s":111,"c":33,"x":0.807,"y":0.16},{"s":111,"c":33,"x":1,"y":0.096},
{"s":112,"c":26,"x":0,"y":0.03},{"s":112,"c":26,"x":0.2,"y":0.076},{"s":112,"c":26,"x":0.3075,"y":0.133},{"s":112,"c":26,"x":0.416,"y":0.18},{"s":112,"c":26,"x":0.516,"y":0.185},{"s":112,"c":26,"x":0.682,"y":0.13},{"s":112,"c":26,"x":0.7475,"y":0.086},{"s":112,"c":26,"x":0.829,"y":0.033},{"s":112,"c":30,"x":0.829,"y":0.033},{"s":112,"c":30,"x":0.91,"y":-0.03},{"s":112,"c":30,"x":0.965,"y":-0.068},{"s":112,"c":30,"x":1.047,"y":-0.057},{"s":112,"c":30,"x":1.096,"y":-0.073},{"s":112,"c":30,"x":1.183,"y":-0.094},{"s":112,"c":30,"x":1.226,"y":-0.126},{"s":112,"c":30,"x":1.292,"y":-0.18},{"s":112,"c":30,"x":1.4,"y":-0.232},{"s":112,"c":30,"x":1.5,"y":-0.27},
{"s":113,"c":26,"x":0,"y":0.04},{"s":113,"c":26,"x":0.183,"y":0.04},{"s":113,"c":26,"x":0.35,"y":0.063},{"s":113,"c":31,"x":0.35,"y":0.063},{"s":113,"c":31,"x":0.558,"y":0.08},{"s":113,"c":31,"x":0.682,"y":0.07},{"s":113,"c":27,"x":0.682,"y":0.07},{"s":113,"c":27,"x":0.766,"y":0.05},{"s":113,"c":27,"x":0.85,"y":0.0},{"s":113,"c":27,"x":1,"y":-0.03},{"s":113,"c":27,"x":1.074,"y":-0.02},{"s":113,"c":27,"x":1.156,"y":-0.03},{"s":113,"c":27,"x":1.237,"y":-0.084},{"s":113,"c":27,"x":1.292,"y":-0.137},{"s":113,"c":27,"x":1.4,"y":-0.18},{"s":113,"c":27,"x":1.5,"y":-0.18},
{"s":114,"c":23,"x":0,"y":0.023},{"s":114,"c":23,"x":0.14,"y":-0.012},{"s":114,"c":23,"x":0.3075,"y":-0.023},{"s":114,"c":23,"x":0.516,"y":-0.017},{"s":114,"c":23,"x":0.8075,"y":-0.006},{"s":114,"c":23,"x":1,"y":-0.006},{"s":114,"c":23,"x":1.1,"y":-0.015},{"s":114,"c":20,"x":1.1,"y":-0.015},{"s":114,"c":20,"x":1.194,"y":0.012},{"s":114,"c":20,"x":1.292,"y":0.033},{"s":114,"c":20,"x":1.5,"y":0.044},
{"s":115,"c":20,"x":1.14,"y":-0.01},{"s":115,"c":20,"x":1.226,"y":-0.02},{"s":115,"c":20,"x":1.346,"y":0.0},{"s":115,"c":20,"x":1.5,"y":0.01},
{"s":116,"c":20,"x":1.5,"y":0.0},{"s":116,"c":20,"x":1.573,"y":-0.05},{"s":116,"c":20,"x":1.69,"y":-0.09},{"s":116,"c":20,"x":1.823,"y":-0.134},{"s":116,"c":20,"x":1.99,"y":-0.168},{"s":116,"c":20,"x":2.157,"y":-0.157},{"s":116,"c":20,"x":2.366,"y":-0.134},
{"s":117,"c":20,"x":1.5,"y":0.0},{"s":117,"c":20,"x":1.59,"y":-0.055},{"s":117,"c":20,"x":1.69,"y":-0.094},{"s":117,"c":20,"x":1.873,"y":-0.123},{"s":117,"c":20,"x":2.073,"y":-0.123},{"s":117,"c":20,"x":2.366,"y":-0.106},
{"s":118,"c":23,"x":1.5,"y":-0.293},{"s":118,"c":23,"x":1.556,"y":-0.287},{"s":118,"c":23,"x":1.656,"y":-0.35},{"s":118,"c":23,"x":1.756,"y":-0.44},{"s":118,"c":23,"x":1.823,"y":-0.446},{"s":118,"c":23,"x":1.906,"y":-0.373},{"s":118,"c":23,"x":2.03,"y":-0.225},{"s":118,"c":23,"x":2.182,"y":-0.14},{"s":118,"c":23,"x":2.366,"y":-0.122},
{"s":119,"c":25,"x":1.5,"y":-0.3},{"s":119,"c":25,"x":1.556,"y":-0.31},{"s":119,"c":25,"x":1.656,"y":-0.384},{"s":119,"c":25,"x":1.74,"y":-0.44},{"s":119,"c":25,"x":1.79,"y":-0.418},{"s":119,"c":25,"x":1.906,"y":-0.282},{"s":119,"c":25,"x":2.023,"y":-0.19},{"s":119,"c":25,"x":2.157,"y":-0.134},{"s":119,"c":25,"x":2.366,"y":-0.106},
{"s":120,"c":30,"x":1.5,"y":-0.174},{"s":120,"c":30,"x":1.656,"y":-0.123},{"s":120,"c":30,"x":1.798,"y":-0.05},{"s":120,"c":30,"x":1.99,"y":0.023},{"s":120,"c":30,"x":2.2,"y":0.035},{"s":120,"c":30,"x":2.366,"y":0.023},
{"s":121,"c":30,"x":1.5,"y":-0.236},{"s":121,"c":30,"x":1.573,"y":-0.214},{"s":121,"c":30,"x":1.673,"y":-0.117},{"s":121,"c":30,"x":1.823,"y":-0.037},{"s":121,"c":30,"x":2,"y":0.02},{"s":121,"c":30,"x":2.366,"y":0.023},
{"s":122,"c":27,"x":1.5,"y":-0.185},{"s":122,"c":27,"x":1.614,"y":-0.196},{"s":122,"c":27,"x":1.74,"y":-0.162},{"s":122,"c":27,"x":1.865,"y":-0.134},{"s":122,"c":27,"x":2.173,"y":-0.123},{"s":122,"c":27,"x":2.366,"y":-0.128},
{"s":123,"c":33,"x":1.5,"y":-0.225},{"s":123,"c":33,"x":1.556,"y":-0.276},{"s":123,"c":33,"x":1.673,"y":-0.225},{"s":123,"c":33,"x":1.773,"y":-0.163},{"s":123,"c":28,"x":1.773,"y":-0.163},{"s":123,"c":28,"x":1.873,"y":-0.123},{"s":123,"c":28,"x":2.173,"y":-0.09},{"s":123,"c":28,"x":2.366,"y":-0.106},
{"s":124,"c":23,"x":0,"y":-0.1},{"s":124,"c":23,"x":0.125,"y":-0.083},{"s":124,"c":23,"x":0.266,"y":-0.106},{"s":124,"c":23,"x":0.4325,"y":-0.117},{"s":124,"c":23,"x":0.6825,"y":-0.117},{"s":124,"c":23,"x":0.7325,"y":-0.106},
{"s":125,"c":72,"x":0.7325,"y":-0.106},{"s":125,"c":72,"x":0.766,"y":-0.072},{"s":125,"c":72,"x":0.807,"y":-0.01},{"s":125,"c":72,"x":0.829,"y":0.033},
{"s":126,"c":88,"x":0.829,"y":0.033},{"s":126,"c":88,"x":0.87,"y":0.07},{"s":126,"c":88,"x":0.905,"y":0.05},{"s":126,"c":88,"x":0.92,"y":0.03},
{"s":127,"c":99,"x":0.92,"y":0.03},{"s":127,"c":99,"x":0.943,"y":0.012},{"s":127,"c":99,"x":1,"y":0.01},{"s":127,"c":99,"x":1.058,"y":0.017},{"s":127,"c":99,"x":1.085,"y":0.038},
{"s":128,"c":92,"x":1.085,"y":0.038},{"s":128,"c":92,"x":1.139,"y":0.075},{"s":128,"c":92,"x":1.172,"y":0.044},{"s":128,"c":92,"x":1.194,"y":0.012},{"s":128,"c":80,"x":1.194,"y":0.012},{"s":128,"c":80,"x":1.226,"y":-0.084},{"s":128,"c":80,"x":1.254,"y":-0.137},{"s":128,"c":80,"x":1.308,"y":-0.243},
{"s":129,"c":21,"x":1.308,"y":-0.243},{"s":129,"c":21,"x":1.368,"y":-0.3},{"s":129,"c":21,"x":1.455,"y":-0.3},{"s":129,"c":21,"x":1.5,"y":-0.3},
{"s":130,"c":21,"x":0,"y":-0.106},{"s":130,"c":21,"x":0.149,"y":-0.106},{"s":130,"c":21,"x":0.266,"y":-0.129},{"s":130,"c":21,"x":0.3825,"y":-0.18},{"s":130,"c":21,"x":0.516,"y":-0.186},{"s":130,"c":21,"x":0.649,"y":-0.175},{"s":130,"c":21,"x":0.7325,"y":-0.14},{"s":130,"c":21,"x":0.8325,"y":-0.12},
{"s":138,"c":33,"x":0.7475,"y":-0.148},{"s":138,"c":33,"x":0.802,"y":-0.095},{"s":138,"c":33,"x":0.9,"y":-0.03},{"s":138,"c":33,"x":0.965,"y":-0.02},
{"s":131,"c":23,"x":0,"y":-0.13},{"s":131,"c":23,"x":0.141,"y":-0.157},{"s":131,"c":23,"x":0.3825,"y":-0.225},{"s":131,"c":23,"x":0.4825,"y":-0.265},{"s":131,"c":23,"x":0.599,"y":-0.276},{"s":131,"c":23,"x":0.6825,"y":-0.248},{"s":131,"c":23,"x":0.7475,"y":-0.21},{"s":131,"c":23,"x":0.829,"y":-0.169},{"s":131,"c":23,"x":0.884,"y":-0.147},{"s":131,"c":23,"x":0.938,"y":-0.126},{"s":131,"c":23,"x":1,"y":-0.121},{"s":131,"c":23,"x":1.009,"y":-0.116},{"s":131,"c":23,"x":1.085,"y":-0.079},{"s":131,"c":23,"x":1.183,"y":-0.052},{"s":131,"c":23,"x":1.21,"y":-0.08},{"s":131,"c":27,"x":1.21,"y":-0.08},{"s":131,"c":27,"x":1.3,"y":-0.17},{"s":131,"c":27,"x":1.4,"y":-0.24},{"s":131,"c":27,"x":1.5,"y":-0.235},
{"s":132,"c":24,"x":0,"y":-0.134},{"s":132,"c":24,"x":0.166,"y":-0.214},{"s":132,"c":24,"x":0.349,"y":-0.293},{"s":132,"c":24,"x":0.449,"y":-0.322},{"s":132,"c":24,"x":0.5575,"y":-0.322},{"s":132,"c":24,"x":0.624,"y":-0.282},{"s":132,"c":24,"x":0.6825,"y":-0.225},{"s":132,"c":24,"x":0.766,"y":-0.163},{"s":132,"c":24,"x":0.8575,"y":-0.128},
{"s":139,"c":30,"x":0.7475,"y":-0.243},{"s":139,"c":30,"x":0.802,"y":-0.19},{"s":139,"c":30,"x":0.856,"y":-0.148},{"s":139,"c":30,"x":0.916,"y":-0.073},{"s":139,"c":30,"x":0.965,"y":-0.068},
{"s":133,"c":27,"x":0.0575,"y":-0.123},{"s":133,"c":27,"x":0.149,"y":-0.111},{"s":133,"c":27,"x":0.3075,"y":-0.157},{"s":133,"c":27,"x":0.3825,"y":-0.185},{"s":133,"c":30,"x":0.3825,"y":-0.185},{"s":133,"c":30,"x":0.474,"y":-0.265},{"s":133,"c":30,"x":0.5325,"y":-0.316},{"s":133,"c":30,"x":0.599,"y":-0.39},{"s":133,"c":30,"x":0.64,"y":-0.395},
{"s":134,"c":29,"x":0,"y":-0.13},{"s":134,"c":29,"x":0.2,"y":-0.19},{"s":134,"c":29,"x":0.449,"y":-0.327},{"s":134,"c":29,"x":0.566,"y":-0.407},{"s":134,"c":29,"x":0.64,"y":-0.387},{"s":134,"c":33,"x":0.64,"y":-0.387},{"s":134,"c":33,"x":0.72,"y":-0.31},{"s":134,"c":33,"x":0.7825,"y":-0.23},{"s":134,"c":33,"x":0.85,"y":-0.17},{"s":134,"c":33,"x":0.9,"y":-0.13},{"s":134,"c":33,"x":1,"y":-0.083},
{"s":135,"c":78,"x":0.835,"y":-0.163},{"s":135,"c":78,"x":0.878,"y":-0.105},{"s":135,"c":78,"x":0.916,"y":-0.084},{"s":135,"c":62,"x":0.916,"y":-0.084},{"s":135,"c":62,"x":0.949,"y":-0.09},{"s":135,"c":43,"x":0.949,"y":-0.09},{"s":135,"c":43,"x":0.98,"y":-0.1},{"s":135,"c":43,"x":1,"y":-0.11},
{"s":136,"c":50,"x":1.02,"y":-0.105},{"s":136,"c":50,"x":1.06,"y":-0.1},{"s":136,"c":78,"x":1.06,"y":-0.1},{"s":136,"c":78,"x":1.097,"y":-0.105},{"s":136,"c":78,"x":1.14,"y":-0.13},{"s":136,"c":78,"x":1.183,"y":-0.195},{"s":136,"c":36,"x":1.183,"y":-0.195},{"s":136,"c":36,"x":1.226,"y":-0.254},{"s":136,"c":36,"x":1.292,"y":-0.306},
{"s":137,"c":90,"x":1.292,"y":-0.306},{"s":137,"c":90,"x":1.319,"y":-0.349},{"s":137,"c":90,"x":1.4,"y":-0.519},{"s":137,"c":90,"x":1.455,"y":-0.646},{"s":137,"c":90,"x":1.493,"y":-0.73},{"s":137,"c":90,"x":1.5,"y":-0.745}
]},"mark":{"type":"line","interpolate":"monotone","strokeWidth":9.5,"strokeCap":"round","strokeJoin":"round","clip":false},
"encoding":{"x":{"field":"x","type":"quantitative","scale":{"domain":[-0.1183,2.4843],"nice":false,"zero":false},"axis":{"values":[0,1,1.5,2.366],"labelExpr":"datum.value==0?'Γ':datum.value==1?'K':datum.value==1.5?'M':'Γ'","labelFontSize":62,"labelFont":"DejaVu Sans","labelColor":"black","tickColor":"black","tickWidth":2.5,"tickSize":10,"labelPadding":8,"domain":false,"gridColor":"#b0b0b0","gridWidth":2.5,"grid":true,"zindex":1,"title":"High symmetry path","titleFontSize":62.4,"titleFont":"DejaVu Sans","titleFontWeight":"normal","titleColor":"black","titlePadding":12,"labelFlush":false}},
"y":{"field":"y","type":"quantitative","scale":{"domain":[-1.65,1.65],"nice":false,"zero":false},"axis":{"values":[-1.5,-1,-0.5,0,0.5,1,1.5],"labelExpr":"replace(format(datum.value,'.1f'),'-','−')","labelFontSize":74,"labelFont":"DejaVu Sans","labelColor":"black","tickColor":"black","tickWidth":2.5,"tickSize":10,"labelPadding":13,"domain":false,"gridColor":"#b0b0b0","gridWidth":2.5,"grid":true,"zindex":1,"title":null}},
"color":{"field":"c","type":"quantitative","scale":{"domain":[0,100],"range":["#b40426","#d44e41","#e9785d","#f5a081","#f5c4ac","#dddddd","#c0d1f5","#9dbdff","#7b9ff9","#5a78e4","#3b4cc0"]},"legend":{"orient":"none","legendX":1612,"legendY":-1,"direction":"vertical","gradientLength":1038,"gradientThickness":52,"gradientStrokeColor":"black","gradientStrokeWidth":2.5,"values":[],"title":null,"padding":0}},
"detail":{"field":"s","type":"nominal"}}},
{"data":{"values":[{"t":"Carbon","x":2.375,"y":1.756},{"t":"NbSe","x":2.4454,"y":-1.867}]},"mark":{"type":"text","fontSize":62,"font":"DejaVu Sans","color":"black","align":"left","baseline":"alphabetic"},"encoding":{"x":{"field":"x","type":"quantitative"},"y":{"field":"y","type":"quantitative"},"text":{"field":"t"}}},
{"data":{"values":[{"t":"2","x":2.7114,"y":-1.896}]},"mark":{"type":"text","fontSize":43,"font":"DejaVu Sans","color":"black","align":"left","baseline":"alphabetic"},"encoding":{"x":{"field":"x","type":"quantitative"},"y":{"field":"y","type":"quantitative"},"text":{"field":"t"}}},
{"data":{"values":[{"t":"Character of the band","x":2.6624,"y":0.0095}]},"mark":{"type":"text","fontSize":62.5,"font":"DejaVu Sans","color":"black","align":"center","baseline":"middle","angle":90},"encoding":{"x":{"field":"x","type":"quantitative"},"y":{"field":"y","type":"quantitative"},"text":{"field":"t"}}},
{"data":{"values":[{"t":"E-E","x":-0.4907,"y":-0.426},{"t":"[eV]","x":-0.4907,"y":0.038}]},"mark":{"type":"text","fontSize":62,"font":"DejaVu Sans","color":"black","align":"left","baseline":"alphabetic","angle":270},"encoding":{"x":{"field":"x","type":"quantitative"},"y":{"field":"y","type":"quantitative"},"text":{"field":"t"}}},
{"data":{"values":[{"t":"F","x":-0.4817,"y":-0.105}]},"mark":{"type":"text","fontSize":43,"font":"DejaVu Sans","color":"black","align":"left","baseline":"alphabetic","angle":270},"encoding":{"x":{"field":"x","type":"quantitative"},"y":{"field":"y","type":"quantitative"},"text":{"field":"t"}}}
]}
